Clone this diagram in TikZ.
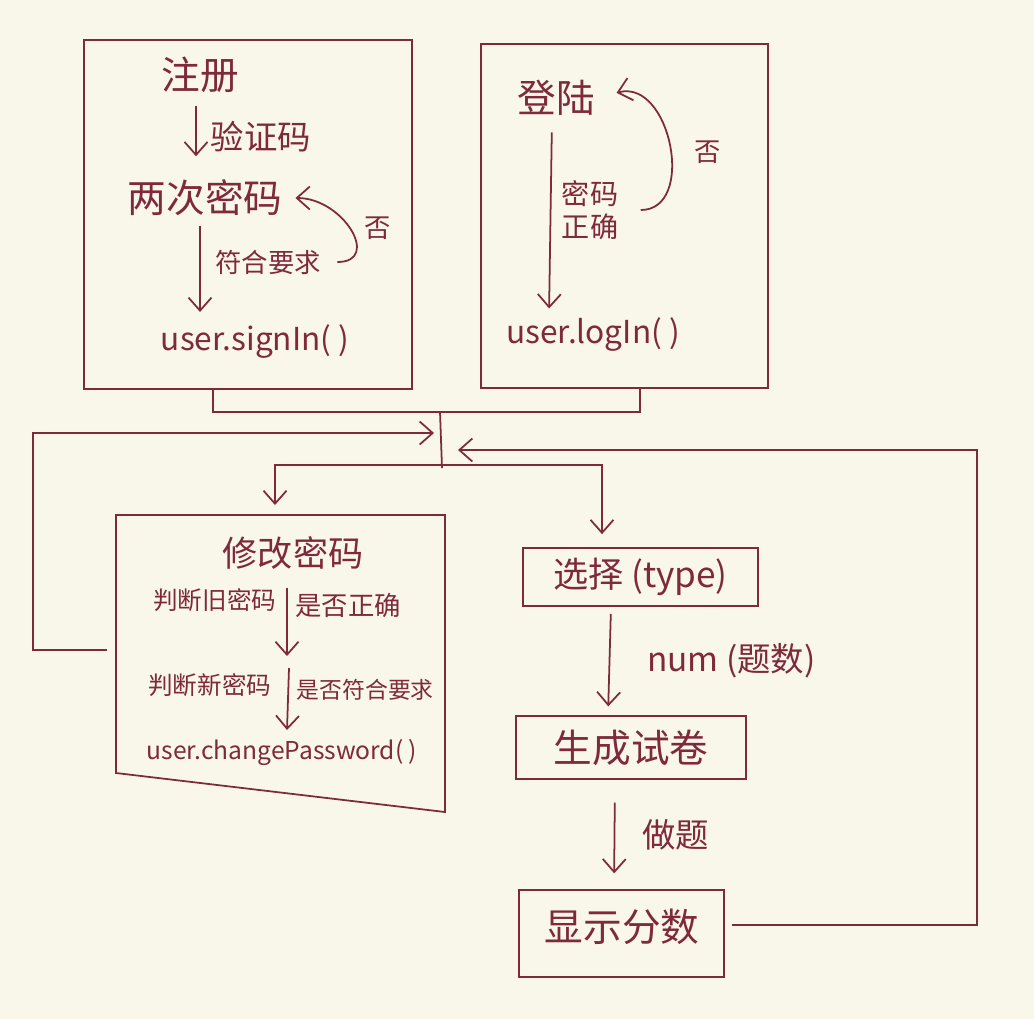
\documentclass[tikz,border=0pt]{standalone}
\usepackage{fontspec}
\newfontfamily\cjk{Noto Sans CJK SC}
\usetikzlibrary{arrows.meta}
\definecolor{paper}{HTML}{F9F6EA}
\definecolor{ink}{HTML}{7E2A3A}

\begin{document}
\begin{tikzpicture}[x=0.02cm, y=-0.02cm, line width=1pt, ink,
  frame/.style={draw, line width=1pt, inner sep=0pt},
  big/.style={font=\cjk\fontsize{22}{26}\selectfont, inner sep=1pt},
  txt/.style={font=\cjk\fontsize{18}{22}\selectfont, inner sep=1pt},
  note/.style={font=\cjk\fontsize{15}{18}\selectfont, inner sep=1pt},
  tiny/.style={font=\cjk\fontsize{13}{16}\selectfont, inner sep=1pt},
  flow/.style={-{Straight Barb[length=2.6mm,width=4.6mm]}, line width=1pt}]
  \fill[paper] (0,0) rectangle (1034,1019);
  \useasboundingbox (0,0) rectangle (1034,1019);

  % register
  \node[frame, minimum width=6.56cm, minimum height=6.98cm] (regbox) at (248,214.5) {};
  \node[big] (reg) at (200,75) {注册};
  \node[big] (twice) at (205,198) {两次密码};
  \node[txt] (signin) at (255,342) {user.signIn( )};
  \draw[flow, shorten <=6pt, shorten >=12pt] (reg.south -| 196,0) -- (twice.north -| 196,0)
    node[midway, right=7pt, txt, font=\cjk\fontsize{19}{22}\selectfont] {验证码};
  \node[note] (req) at (268,262) {符合要求};
  \draw[flow, shorten <=4pt, shorten >=6pt] (twice.south -| 200,0) -- (signin.north -| 200,0);
  \draw[flow, shorten <=8pt, shorten >=6pt] (req.east) to[out=0, in=0, looseness=2] (twice.east);
  \node[note] at (378,228) {否};

  % login
  \node[frame, minimum width=5.74cm, minimum height=6.88cm] (logbox) at (624.5,216) {};
  \node[big] (login) at (556,98) {登陆};
  \node[txt] (logcall) at (593,335) {user.logIn( )};
  \draw[flow, shorten <=8pt, shorten >=4pt] (login.south -| 552,0) -- (logcall.north -| 549,0);
  \node[note, align=left, font=\cjk\fontsize{16}{19}\selectfont] (pwok) at (590,210) {密码\\正确};
  \draw[flow, shorten <=0.4cm, shorten >=0.4cm] (pwok.east) to[out=0, in=15, looseness=1.7] (login.east);
  \node[note] at (708,152) {否};

  % join the two boxes
  \coordinate (r1) at (213,412);
  \coordinate (l1) at (640,412);
  \coordinate (hub) at (440,412);
  \coordinate (split) at (441,465);
  \draw (regbox.south -| r1) -- (r1) -- (l1) -- (logbox.south -| l1);
  \draw (hub) -- (442,468);

  % change password
  \coordinate (k1) at (116,515);
  \coordinate (k2) at (445,515);
  \coordinate (k3) at (445,812);
  \coordinate (k4) at (116,773);
  \draw (k1) -- (k2) -- (k3) -- (k4) -- cycle;
  \node[big, font=\cjk\fontsize{20}{24}\selectfont] (chgtitle) at (293,553) {修改密码};
  \node[tiny, font=\cjk\fontsize{14}{17}\selectfont, anchor=east] (oldl) at (279,600) {判断旧密码};
  \node[tiny, font=\cjk\fontsize{15}{18}\selectfont, anchor=west] (oldr) at (293,605) {是否正确};
  \node[tiny, font=\cjk\fontsize{14}{17}\selectfont, anchor=east] (newl) at (274,685) {判断新密码};
  \node[tiny, anchor=west] (newr) at (294,690) {是否符合要求};
  \node[tiny, font=\cjk\fontsize{14}{17}\selectfont] (chgcall) at (282,752) {user.changePassword( )};
  \coordinate (a1) at (287,588);
  \coordinate (a2) at (287,656);
  \coordinate (b1) at (289,668);
  \coordinate (b2) at (287,730);
  \draw[flow] (a1) -- (a2);
  \draw[flow] (b1) -- (b2);

  % exam
  \node[frame, minimum width=4.7cm, minimum height=1.16cm, txt, font=\cjk\fontsize{20}{24}\selectfont] (sel) at (640.5,577) {选择 (type)};
  \node[frame, minimum width=4.6cm, minimum height=1.26cm, big] (gen) at (631,747.5) {生成试卷};
  \node[frame, minimum width=4.1cm, minimum height=1.74cm, big] (score) at (621.5,933.5) {};
  \node[big] at (622,927) {显示分数};
  \draw[flow, shorten <=4pt, shorten >=5pt] (sel.south -| 611,0) -- (gen.north -| 608,0)
    node[midway, right=0.7cm, txt, font=\cjk\fontsize{19}{22}\selectfont] {num (题数)};
  \draw[flow, shorten <=13pt, shorten >=9pt] (gen.south -| 615,0) -- (score.north -| 614,0)
    node[midway, right=0.5cm, txt, font=\cjk\fontsize{19}{22}\selectfont] {做题};

  % branches from the hub
  \coordinate (chgin) at (275,505);
  \draw[flow] (split) -| (chgin);
  \draw[flow, shorten >=0.26cm] (split) -| (sel.north -| 602,0);

  % back loops
  \coordinate (chgout) at (107,650);
  \coordinate (scoreout) at (732,925);
  \coordinate (inL) at (434,433);
  \coordinate (inR) at (458,450);
  \draw[flow] (chgout) -- ++(-74,0) |- (inL);
  \draw[flow] (scoreout) -- ++(245,0) |- (inR);
\end{tikzpicture}
\end{document}
